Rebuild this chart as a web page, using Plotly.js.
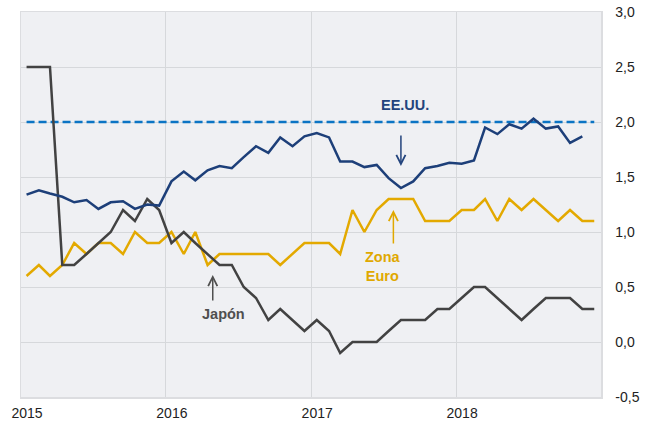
<!DOCTYPE html>
<html>
<head>
<meta charset="utf-8">
<script src="https://cdn.plot.ly/plotly-3.0.1.min.js"></script>
<style>html,body{margin:0;padding:0;background:#fff;}#chart{width:649px;height:423px;}</style>
</head>
<body>
<div id="chart"></div>
<script>
// Monthly inflation (%), Jan 2015 – Dec 2018
const years = [2015, 2016, 2017, 2018];
const usa = [1.34, 1.38, 1.35, 1.32, 1.27, 1.29, 1.21, 1.27, 1.28, 1.21, 1.25, 1.24,
             1.46, 1.55, 1.47, 1.56, 1.60, 1.58, 1.68, 1.78, 1.72, 1.86, 1.78, 1.87,
             1.90, 1.86, 1.64, 1.64, 1.59, 1.61, 1.49, 1.40, 1.46, 1.58, 1.60, 1.63,
             1.62, 1.65, 1.95, 1.89, 1.98, 1.94, 2.03, 1.94, 1.96, 1.81, 1.87];
const euro = [0.6, 0.7, 0.6, 0.7, 0.9, 0.8, 0.9, 0.9, 0.8, 1.0, 0.9, 0.9,
              1.0, 0.8, 1.0, 0.7, 0.8, 0.8, 0.8, 0.8, 0.8, 0.7, 0.8, 0.9,
              0.9, 0.9, 0.8, 1.2, 1.0, 1.2, 1.3, 1.3, 1.3, 1.1, 1.1, 1.1,
              1.2, 1.2, 1.3, 1.1, 1.3, 1.2, 1.3, 1.2, 1.1, 1.2, 1.1, 1.1];
const japan = [2.5, 2.5, 2.5, 0.7, 0.7, 0.8, 0.9, 1.0, 1.2, 1.1, 1.3, 1.2,
               0.9, 1.0, 0.9, 0.8, 0.7, 0.7, 0.5, 0.4, 0.2, 0.3, 0.2, 0.1,
               0.2, 0.1, -0.1, 0.0, 0.0, 0.0, 0.1, 0.2, 0.2, 0.2, 0.3, 0.3,
               0.4, 0.5, 0.5, 0.4, 0.3, 0.2, 0.3, 0.4, 0.4, 0.4, 0.3, 0.3];
const target = [2.0, 2.0];
const yTickVals = [-0.5, 0, 0.5, 1, 1.5, 2, 2.5, 3];
const yTickText = ['-0,5', '0,0', '0,5', '1,0', '1,5', '2,0', '2,5', '3,0'];

const months = [];
years.forEach(y => { for (let m = 1; m <= 12; m++) months.push(y + '-' + String(m).padStart(2, '0') + '-15'); });
const targetX = [months[0], months[months.length - 1]];

const traces = [
  {x: targetX, y: target, mode: 'lines', line: {color: '#0b74c4', width: 2.5, dash: '8px,4px'}, hoverinfo: 'skip'},
  {x: months.slice(0, euro.length), y: euro, mode: 'lines', line: {color: '#e3a900', width: 2.5}},
  {x: months.slice(0, japan.length), y: japan, mode: 'lines', line: {color: '#424242', width: 2.5}},
  {x: months.slice(0, usa.length), y: usa, mode: 'lines', line: {color: '#1d3f79', width: 2.5}}
];

const font = {family: 'Liberation Sans, Arial, sans-serif'};
const layout = {
  width: 649, height: 423,
  margin: {l: 21, r: 48, t: 12, b: 26},
  paper_bgcolor: '#ffffff',
  plot_bgcolor: '#eff0f3',
  showlegend: false,
  font: {family: font.family, size: 14, color: '#222222'},
  xaxis: {
    type: 'date',
    range: ['2015-01-01', '2019-01-01'],
    tickvals: ['2015-01-01', '2016-01-01', '2017-01-01', '2018-01-01'],
    tickformat: '%Y',
    ticklabelshift: 6,
    ticklabelstandoff: 3,
    showgrid: true, gridcolor: '#d6d8db', gridwidth: 1,
    showline: true, mirror: true, linecolor: '#dcdde0', linewidth: 1.5,
    zeroline: false, ticks: '',
    tickfont: {size: 14, color: '#222222'}
  },
  yaxis: {
    side: 'right',
    range: [-0.5, 3.0],
    tickvals: yTickVals, ticktext: yTickText,
    showgrid: true, gridcolor: '#d6d8db', gridwidth: 1,
    showline: true, mirror: true, linecolor: '#dcdde0', linewidth: 1.5,
    zeroline: false, ticks: '',
    ticklabelstandoff: 10,
    tickfont: {size: 14, color: '#222222'}
  },
  annotations: [
    {x: '2017-08-25', y: 2.156, text: '<b>EE.UU.</b>', showarrow: false, font: {size: 14.5, color: '#23447d'}},
    {x: '2017-08-15', y: 1.60, ax: 0, ay: -32, text: '', showarrow: true, arrowhead: 5, arrowsize: 1.2, arrowwidth: 1.5, arrowcolor: '#23447d'},
    {x: '2016-05-25', y: 0.255, text: '<b>Japón</b>', showarrow: false, font: {size: 14.5, color: '#4f4f4f'}},
    {x: '2016-04-28', y: 0.61, ax: 0, ay: 27, text: '', showarrow: true, arrowhead: 5, arrowsize: 1.2, arrowwidth: 1.5, arrowcolor: '#4f4f4f'},
    {x: '2017-07-01', y: 0.682, text: '<b>Zona<br>Euro</b>', showarrow: false, font: {size: 14.5, color: '#e0a800'}},
    {x: '2017-07-27', y: 1.20, ax: 0, ay: 35, text: '', showarrow: true, arrowhead: 5, arrowsize: 1.2, arrowwidth: 1.5, arrowcolor: '#e0a800'}
  ]
};

Plotly.newPlot('chart', traces, layout, {staticPlot: true, displayModeBar: false});
</script>
</body>
</html>
